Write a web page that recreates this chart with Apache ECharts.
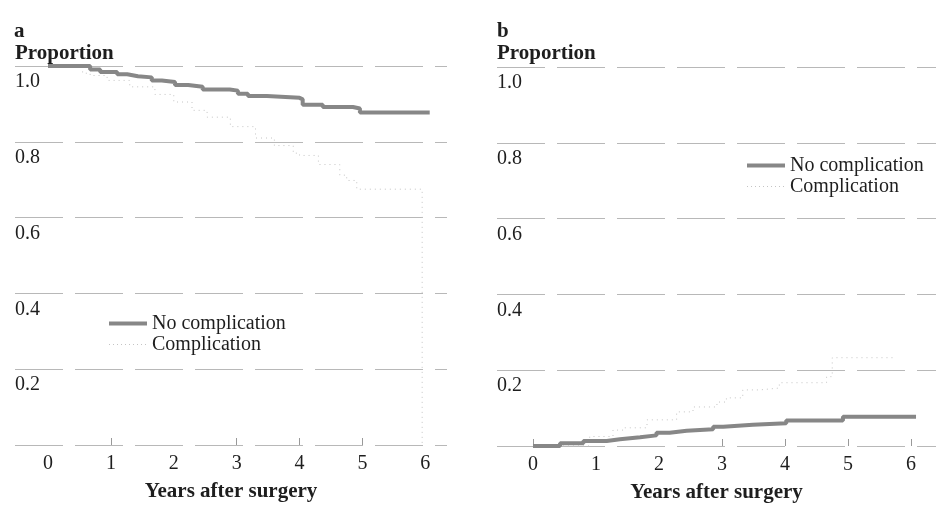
<!DOCTYPE html>
<html>
<head>
<meta charset="utf-8">
<script src="https://cdn.jsdelivr.net/npm/echarts@6/dist/echarts.min.js"></script>
<style>
  html, body { margin: 0; padding: 0; background: #fff; }
  #chart { width: 936px; height: 506px; }
</style>
</head>
<body>
<div id="chart"></div>
<script>
"use strict";

// panel a: proportion without event, by group (years after surgery)
const aNoCompYears = [0, 0.67, 0.83, 1.10, 1.26, 1.43, 1.65, 1.81, 2.02, 2.23, 2.46, 2.89, 3.02, 3.18, 3.48, 4.00, 4.05, 4.37, 4.85, 4.96, 6.07];
const aNoCompProp  = [1.0, 0.991, 0.984, 0.978, 0.973, 0.970, 0.962, 0.958, 0.950, 0.945, 0.938, 0.935, 0.927, 0.921, 0.916, 0.912, 0.898, 0.892, 0.888, 0.877, 0.877];
const aCompYears = [0, 0.55, 0.67, 0.94, 1.30, 1.70, 2.00, 2.29, 2.53, 2.90, 3.30, 3.60, 3.90, 4.00, 4.30, 4.64, 4.75, 4.91, 5.95];
const aCompProp  = [1.0, 0.981, 0.975, 0.962, 0.945, 0.925, 0.905, 0.883, 0.865, 0.840, 0.810, 0.790, 0.770, 0.764, 0.740, 0.712, 0.698, 0.675, 0.0];

// panel b: cumulative proportion
const bNoCompYears = [0, 0.43, 0.80, 1.17, 1.38, 1.70, 1.96, 2.17, 2.44, 2.86, 3.02, 3.49, 4.02, 4.92, 6.08];
const bNoCompProp  = [0, 0.007, 0.013, 0.018, 0.023, 0.028, 0.035, 0.040, 0.044, 0.051, 0.056, 0.060, 0.067, 0.077, 0.077];
const bCompYears = [0, 0.90, 1.27, 1.43, 1.81, 2.28, 2.54, 2.92, 3.07, 3.33, 3.60, 3.91, 4.66, 4.75, 5.77];
const bCompProp  = [0, 0.025, 0.042, 0.048, 0.069, 0.090, 0.103, 0.116, 0.127, 0.148, 0.153, 0.167, 0.183, 0.233, 0.233];

const yearLabels = [0, 1, 2, 3, 4, 5, 6];
const tickYearsA = [1, 3, 4, 5];
const tickYearsB = [0, 3, 4, 5, 6];
const groupNames = ["No complication", "Complication"];

const SERIF = "'Liberation Serif', 'DejaVu Serif', serif";
const INK = "#1e1e1e";
const DARK = "#878787", LIGHT = "#c4c4c4";

const zip = (xs, ys) => xs.map((x, i) => [x, ys[i]]);

function xAxisFor(idx, min, max, ticks) {
  return {
    type: "value", gridIndex: idx, min: min, max: max,
    name: "Years after surgery", nameLocation: "middle", nameGap: 36,
    nameTextStyle: { fontFamily: SERIF, fontSize: 21, fontWeight: "bold", color: INK },
    axisLine: { show: false },
    splitLine: { show: false },
    axisTick: { show: true, inside: true, length: 7, customValues: ticks,
      lineStyle: { color: "#999", width: 1 } },
    axisLabel: { customValues: yearLabels, margin: 9,
      fontFamily: SERIF, fontSize: 20, color: INK },
  };
}

function yAxisFor(idx) {
  return {
    type: "value", gridIndex: idx, min: 0, max: 1, interval: 0.2,
    axisLine: { show: false }, axisTick: { show: false },
    splitLine: { show: true, lineStyle: { color: "#b8b8b8", width: 1, type: [48, 12] } },
    axisLabel: {
      inside: true, margin: 0, align: "left", verticalAlign: "top", padding: [6, 0, 0, 0],
      fontFamily: SERIF, fontSize: 20, color: INK,
      formatter: v => v === 0 ? "" : v.toFixed(1),
    },
  };
}

function noCompSeries(idx, data) {
  return {
    name: groupNames[0], type: "line", step: "end", symbol: "none",
    xAxisIndex: idx, yAxisIndex: idx, data: data, z: 3,
    lineStyle: { color: DARK, width: 4 },
    itemStyle: { color: DARK },
  };
}

function compSeries(idx, data) {
  return {
    name: groupNames[1], type: "line", step: "end", symbol: "none",
    xAxisIndex: idx, yAxisIndex: idx, data: data, z: 2,
    lineStyle: { color: LIGHT, width: 1, type: [1, 4] },
    itemStyle: { color: LIGHT },
  };
}

function legendAt(left, top) {
  return {
    data: [
      { name: groupNames[0], lineStyle: { color: DARK, width: 4, type: "solid" } },
      { name: groupNames[1], lineStyle: { color: LIGHT, width: 1, type: [1, 3] } },
    ],
    orient: "vertical", left: left, top: top, padding: 0,
    itemWidth: 38, itemHeight: 12, itemGap: 0, selectedMode: false,
    itemStyle: { opacity: 0 },
    textStyle: { fontFamily: SERIF, fontSize: 20, lineHeight: 21, color: INK },
  };
}

function label(text, left, top, size) {
  return {
    text: text, left: left, top: top, padding: 0,
    textStyle: { fontFamily: SERIF, fontSize: size, fontWeight: "bold", color: INK },
  };
}

const chart = echarts.init(document.getElementById("chart"), null, { renderer: "canvas" });
chart.setOption({
  animation: false,
  backgroundColor: "#fff",
  title: [
    label("a", 14, 21, 21),
    label("Proportion", 15, 43, 21),
    label("b", 497, 21, 21),
    label("Proportion", 497, 43, 21),
  ],
  legend: [legendAt(107, 313), legendAt(745, 155)],
  grid: [
    { left: 15, top: 66, width: 432, height: 379, outerBoundsMode: "none", containLabel: false },
    { left: 497, top: 67, width: 439, height: 379, outerBoundsMode: "none", containLabel: false },
  ],
  xAxis: [
    xAxisFor(0, -0.525, 6.345, tickYearsA),
    xAxisFor(1, -0.571, 6.397, tickYearsB),
  ],
  yAxis: [yAxisFor(0), yAxisFor(1)],
  series: [
    noCompSeries(0, zip(aNoCompYears, aNoCompProp)),
    compSeries(0, zip(aCompYears, aCompProp)),
    noCompSeries(1, zip(bNoCompYears, bNoCompProp)),
    compSeries(1, zip(bCompYears, bCompProp)),
  ],
});
</script>
</body>
</html>
